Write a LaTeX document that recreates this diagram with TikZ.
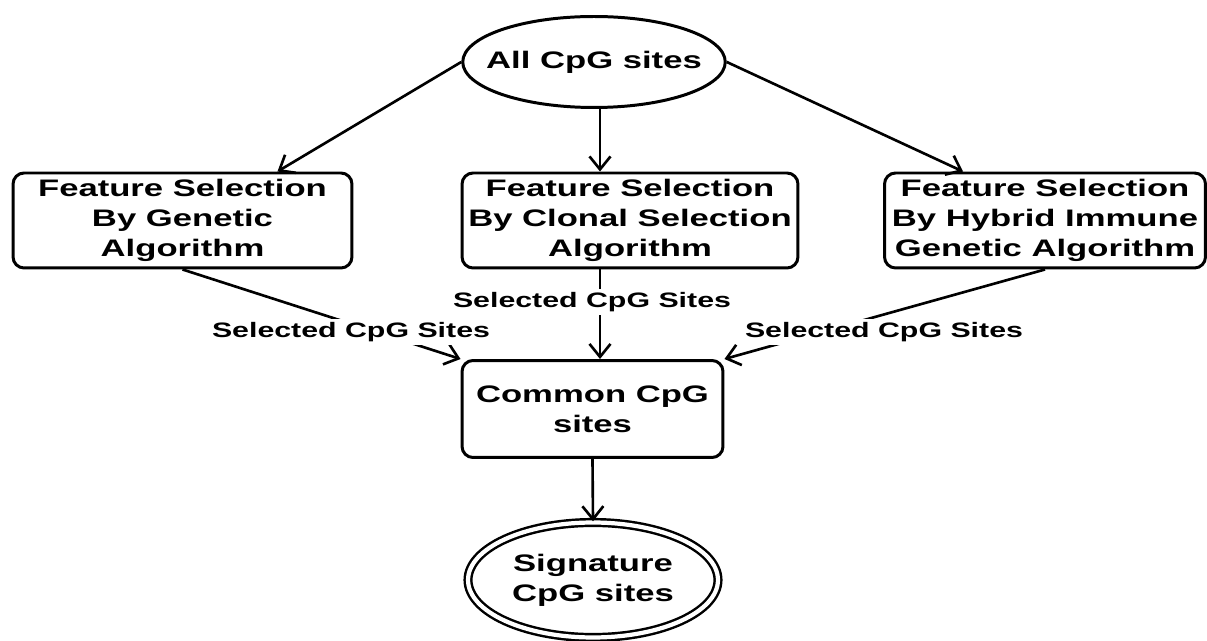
\documentclass[tikz,border=0pt]{standalone}
\usepackage{fontspec}
\setmainfont{Liberation Sans}[FakeStretch=1.45]
\usepackage{tikz}
\usetikzlibrary{arrows.meta,shapes.geometric,calc}
\usetikzlibrary{positioning}

\newcommand{\boxfont}{\fontsize{13.6}{17}\selectfont\bfseries}
\newcommand{\lblfont}{\fontsize{11.9}{14}\selectfont\bfseries}

\tikzset{
    stage/.style={draw, line width=1.7pt, rounded corners=0.22cm, align=center, font=\boxfont, minimum height=1.9cm, inner sep=2pt},
    oval/.style={draw, ellipse, line width=1.7pt, align=center, font=\boxfont, inner sep=0pt},
    arr/.style={line width=1.5pt, -{Straight Barb[length=0.26cm,width=0.42cm,line width=1.5pt]}},
    lbl/.style={fill=white, font=\lblfont, inner xsep=1pt, inner ysep=2pt}
}

\begin{document}
\begin{tikzpicture}[x=0.02cm, y=-0.02cm]
                \useasboundingbox (0,0) rectangle (1207,641);
                \node[oval, inner xsep=-0.3cm, minimum width=5.19cm, minimum height=1.82cm] (all) at (594,62) {All CpG sites};
                \node[stage, minimum width=6.78cm] (ga) at (182.5,220.5) {Feature Selection\\By Genetic\\Algorithm};
                \node[stage, minimum width=6.72cm] (csa) at (630,220.5) {Feature Selection\\By Clonal Selection\\Algorithm};
                \node[stage, minimum width=6.42cm] (hga) at (1045,220.5) {Feature Selection\\By Hybrid Immune\\Genetic Algorithm};
                \node[stage, minimum width=5.22cm, minimum height=1.94cm] (common) at (592.5,409) {Common CpG\\sites};
                \node[oval, double, line width=1.4pt, double distance=2.4pt, minimum width=5.0cm, minimum height=2.3cm] (sig) at (593,580) {Signature\\CpG sites};
                \coordinate (cin) at ([xshift=-0.6cm]csa.north);
                %\draw[dashed] (all.south) -- (csa.north);
                \draw[arr] (all.west) -- ([xshift=1.9cm]ga.north);
                \draw[arr] (all.south -| cin) -- (cin);
                \draw[arr] (all.east) -- ([xshift=-1.64cm]hga.north);
                \draw[arr] (ga.south) -- (common.north west);
                \draw[arr] (cin |- csa.south) -- (cin |- common.north);
                \draw[arr] (hga.south) -- (common.north east);
                \draw[arr] (common.south) -- (sig.north);
                \node[lbl] (sel1) at (351,332) {Selected CpG Sites};
                \node[lbl] (sel2) at (592,302) {Selected CpG Sites};
                \node[lbl] (sel3) at (884,332) {Selected CpG Sites};
\end{tikzpicture}
\end{document}
